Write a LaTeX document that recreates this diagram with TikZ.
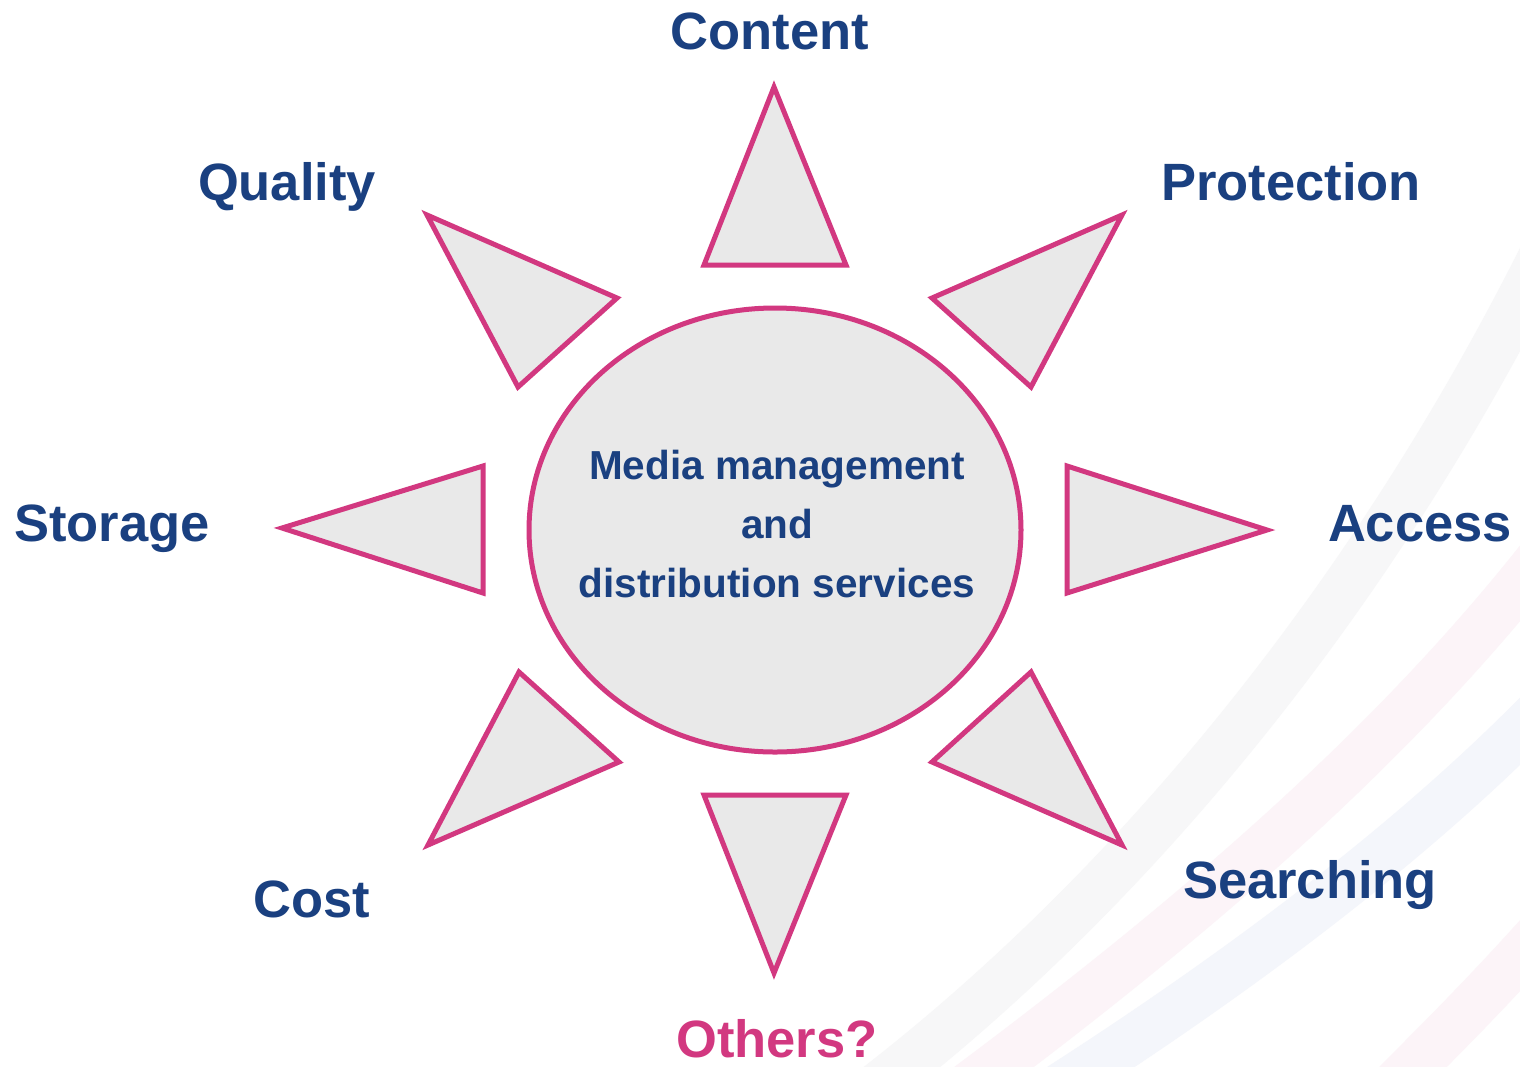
\documentclass[tikz,border=0pt]{standalone}
\usepackage{fontspec}
\setmainfont{Liberation Sans}
\usetikzlibrary{shapes.geometric}
\definecolor{rimpink}{RGB}{210,56,128}
\definecolor{txtblue}{RGB}{26,64,128}
\definecolor{fillgray}{RGB}{233,233,233}
\definecolor{bandgray}{RGB}{247,247,248}
\definecolor{bandpink}{RGB}{252,244,248}
\definecolor{bandblue}{RGB}{244,246,251}
\begin{document}
\begin{tikzpicture}[x=1pt,y=-1pt,
  ray/.style={draw=rimpink,fill=fillgray,line width=5pt,line join=miter},
  lbl/.style={font=\fontsize{52.5}{52}\selectfont\bfseries,text=txtblue,anchor=base,inner sep=0pt},
  band/.style={line width=48pt}]
\useasboundingbox (0,0) rectangle (1520,1066);
\fill[white] (0,0) rectangle (1520,1066);
% faint background swooshes
\begin{scope}
\clip (0,0) rectangle (1520,1066);
\draw[band,bandgray] (860,1100) .. controls (1150,880) and (1400,560) .. (1570,200);
\draw[band,bandpink] (950,1100) .. controls (1220,900) and (1420,720) .. (1570,520);
\draw[band,bandblue] (1040,1100) .. controls (1260,960) and (1440,820) .. (1570,680);
\draw[band,bandpink] (1380,1100) .. controls (1450,1030) and (1500,980) .. (1570,900);
\end{scope}
% central ellipse
\node[draw=rimpink,fill=fillgray,line width=5pt,ellipse,minimum width=492pt,minimum height=444pt,inner sep=0pt] (hub) at (775,530) {};
\node[font=\fontsize{40.5}{59}\selectfont\bfseries,text=txtblue,align=center] (hubtxt) at (777,524) {Media management\\and\\distribution services};
% rays
\draw[ray] (774,87) -- (846,265) -- (704,265) -- cycle;
\draw[ray] (774,973) -- (846,795) -- (704,795) -- cycle;
\draw[ray] (282,528) -- (483,466) -- (483,593) -- cycle;
\draw[ray] (1267,530) -- (1067,466) -- (1067,593) -- cycle;
\draw[ray] (427,215) -- (617,298) -- (518,387) -- cycle;
\draw[ray] (1122,215) -- (932,298) -- (1031,387) -- cycle;
\draw[ray] (519,672) -- (619,762) -- (428,845) -- cycle;
\draw[ray] (1031,672) -- (932,762) -- (1122,845) -- cycle;
% labels
\node[lbl] (content) at (770,49) {Content};
\node[lbl] (quality) at (287,200) {Quality};
\node[lbl] (protection) at (1291,200) {Protection};
\node[lbl] (storage) at (112,541) {Storage};
\node[lbl] (access) at (1420,541) {Access};
\node[lbl] (cost) at (312,917) {Cost};
\node[lbl] (searching) at (1310,898) {Searching};
\node[lbl,text=rimpink] (others) at (777,1057) {Others?};
\end{tikzpicture}
\end{document}
